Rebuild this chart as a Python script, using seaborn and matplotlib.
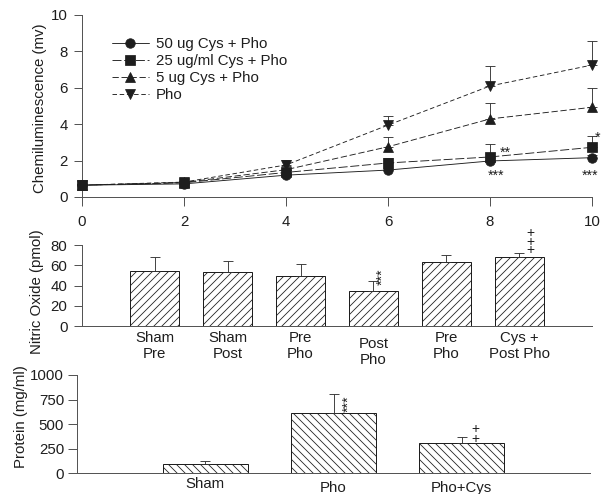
import numpy as np
import pandas as pd
import matplotlib
matplotlib.use("Agg")
import matplotlib.pyplot as plt
import seaborn as sns

# ---------------- data ----------------
time_h = [0, 2, 4, 6, 8, 10]
series_names = ["50 ug Cys + Pho", "25 ug/ml Cys + Pho", "5 ug Cys + Pho", "Pho"]
cys50 = [0.65, 0.72, 1.20, 1.48, 1.98, 2.16]
cys50_err = [0.05, 0.05, 0.10, 0.12, 0.15, 0.15]
cys25 = [0.65, 0.78, 1.35, 1.87, 2.20, 2.73]
cys25_err = [0.05, 0.08, 0.15, 0.27, 0.70, 0.62]
cys5 = [0.65, 0.80, 1.50, 2.76, 4.29, 4.93]
cys5_err = [0.05, 0.08, 0.20, 0.55, 0.90, 1.04]
pho = [0.65, 0.82, 1.76, 3.95, 6.10, 7.25]
pho_err = [0.05, 0.08, 0.25, 0.50, 1.10, 1.30]

no_keys = ["Sham Pre", "Sham Post", "Pre Pho A", "Post Pho", "Pre Pho B", "Cys + Post Pho"]
no_labels = ["Sham\nPre", "Sham\nPost", "Pre\nPho", "Post\nPho", "Pre\nPho", "Cys +\nPost Pho"]
no_vals = [54.2, 53.6, 49.6, 34.7, 63.1, 67.8]
no_err = [14.2, 10.2, 11.9, 9.6, 6.7, 4.3]

prot_labels = ["Sham", "Pho", "Pho+Cys"]
prot_vals = [98, 610, 305]
prot_err = [30, 197, 67]

# ---------------- style ----------------
sns.set_style("ticks")
plt.rcParams["font.family"] = ["Liberation Sans", "DejaVu Sans"]
plt.rcParams["hatch.linewidth"] = 0.8
plt.rcParams["hatch.color"] = "#222222"

DPI = 72
fig = plt.figure(figsize=(601 / DPI, 494 / DPI), dpi=DPI)
ink = "#1e1e1e"
spine_c = "#555555"
FS = 15

def style_axes(ax):
    for s in ["top", "right"]:
        ax.spines[s].set_visible(False)
    for s in ["left", "bottom"]:
        ax.spines[s].set_color(spine_c)
        ax.spines[s].set_linewidth(1.0)
    ax.tick_params(colors=spine_c, labelcolor=ink, labelsize=FS, width=1.0)

# ---------------- top panel ----------------
ax1 = fig.add_axes([82 / 601, 1 - 197 / 494, 510 / 601, 182 / 494])
style_axes(ax1)
markers = ["o", "s", "^", "v"]
styles = ["-", (0, (10, 3)), (0, (7, 3)), (0, (5, 3))]
vals_all = [cys50, cys25, cys5, pho]
errs_all = [cys50_err, cys25_err, cys5_err, pho_err]
for name, v, e, m, ls in zip(series_names, vals_all, errs_all, markers, styles):
    ax1.errorbar(time_h, v, yerr=[np.zeros(len(e)), e], fmt="none", ecolor="#333333",
                 elinewidth=0.9, capsize=5, capthick=0.9, zorder=2, clip_on=False)
for name, v, m, ls in zip(series_names, vals_all, markers, styles):
    sns.lineplot(x=time_h, y=v, ax=ax1, color=ink, marker=m, markersize=9.5,
                 markeredgecolor=ink, linewidth=0.9, linestyle=ls, label=name,
                 clip_on=False, zorder=3)
ax1.set_xlim(0, 10)
ax1.set_ylim(0, 10)
ax1.set_xticks([0, 2, 4, 6, 8, 10])
ax1.set_yticks([0, 2, 4, 6, 8, 10])
ax1.tick_params(axis="both", length=8.5)
ax1.tick_params(axis="x", pad=10)
ax1.tick_params(axis="y", pad=6)
ax1.set_xlabel("")
ax1.set_ylabel("Chemiluminescence (mv)", fontsize=FS, color=ink)
ax1.yaxis.set_label_coords(-0.068, 0.49)
leg = ax1.legend(loc="upper left", bbox_to_anchor=(0.058, 0.88), frameon=False,
                 handlelength=2.5, handletextpad=0.45, labelspacing=0.2,
                 borderaxespad=0, borderpad=0, fontsize=FS, numpoints=1)
for t in leg.get_texts():
    t.set_color(ink)
star_fs = 14
ax1.text(8.2, 2.45, "**", fontsize=star_fs, color=ink, ha="left", va="center")
ax1.text(8.12, 1.15, "***", fontsize=star_fs, color=ink, ha="center", va="center")
ax1.text(10.05, 3.25, "*", fontsize=star_fs, color=ink, ha="left", va="center", clip_on=False)
ax1.text(10.12, 1.15, "***", fontsize=star_fs, color=ink, ha="right", va="center", clip_on=False)

# ---------------- middle panel ----------------
ax2 = fig.add_axes([82 / 601, 1 - 326 / 494, 510 / 601, 81 / 494])
style_axes(ax2)
df_no = pd.DataFrame({"group": no_keys, "value": no_vals})
sns.barplot(data=df_no, x="group", y="value", order=no_keys, ax=ax2, color="white",
            saturation=1, edgecolor=ink, linewidth=1.0, width=0.67, errorbar=None)
for p in ax2.patches:
    p.set_hatch("///")
ax2.errorbar(range(len(no_vals)), no_vals, yerr=[np.zeros(len(no_err)), no_err], fmt="none",
             ecolor="#333333", elinewidth=0.9, capsize=5, capthick=0.9, zorder=1)
ax2.set_xlim(-1, 6)
ax2.set_ylim(0, 80)
ax2.set_yticks([0, 20, 40, 60, 80])
ax2.set_xticks(range(len(no_keys)))
ax2.set_xticklabels(no_labels)
ax2.tick_params(axis="x", length=0, pad=5)
ax2.tick_params(axis="y", length=8.5, pad=6)
ax2.xaxis.get_major_ticks()[3].set_pad(11)
ax2.set_xlabel("")
ax2.set_ylabel("Nitric Oxide (pmol)", fontsize=FS, color=ink)
ax2.yaxis.set_label_coords(-0.074, 0.42)
ax2.text(3.13, 49, "***", fontsize=star_fs, color=ink, rotation=90, ha="center", va="center")
ax2.text(5.15, 83, "+\n+\n+", fontsize=14, color=ink, ha="center", va="center",
         linespacing=0.5, clip_on=False)

# ---------------- bottom panel ----------------
ax3 = fig.add_axes([77 / 601, 1 - 473.3 / 494, 513 / 601, 98.3 / 494])
style_axes(ax3)
df_p = pd.DataFrame({"group": prot_labels, "value": prot_vals})
sns.barplot(data=df_p, x="group", y="value", order=prot_labels, ax=ax3, color="white",
            saturation=1, edgecolor=ink, linewidth=1.0, width=0.66, errorbar=None)
for p in ax3.patches:
    p.set_hatch("\\\\\\")
ax3.errorbar(range(len(prot_vals)), prot_vals, yerr=[np.zeros(len(prot_err)), prot_err],
             fmt="none", ecolor="#333333", elinewidth=0.9, capsize=5, capthick=0.9, zorder=1)
ax3.set_xlim(-1, 3)
ax3.set_ylim(0, 1000)
ax3.set_yticks([0, 250, 500, 750, 1000])
ax3.tick_params(axis="x", length=0, pad=4)
ax3.tick_params(axis="y", length=9, pad=4)
for i in (1, 2):
    ax3.xaxis.get_major_ticks()[i].set_pad(8)
ax3.set_xlabel("")
ax3.set_ylabel("Protein (mg/ml)", fontsize=FS, color=ink)
ax3.yaxis.set_label_coords(-0.095, 0.58)
ax3.text(1.12, 705, "***", fontsize=star_fs, color=ink, rotation=90, ha="center", va="center")
ax3.text(2.11, 400, "+\n+", fontsize=14, color=ink, ha="center", va="center", linespacing=0.55)

fig.savefig("out.png", dpi=DPI)
